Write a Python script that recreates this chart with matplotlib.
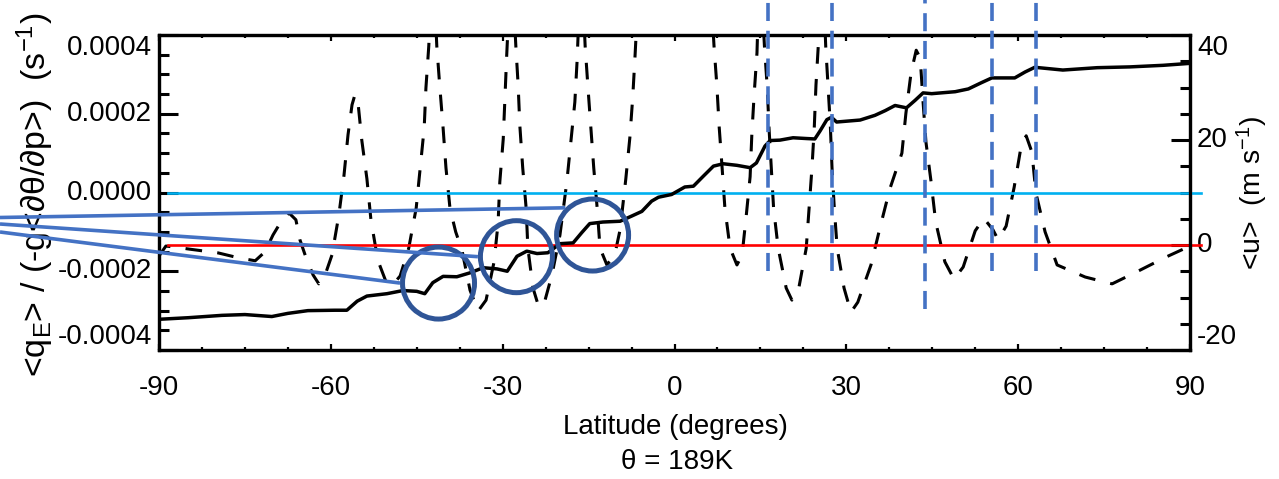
import math
import matplotlib
matplotlib.use("Agg")
import matplotlib.pyplot as plt
from matplotlib import font_manager
from matplotlib.patches import Circle
from matplotlib.ticker import MultipleLocator, FixedLocator, FormatStrFormatter

# ---- data ----
# solid curve, left axis (units of 1e-4 s^-1)
pv_lat = [-90.0, -84.9, -79.0, -75.0, -70.3, -67.5, -64.0, -59.3, -57.2, -55.4,
          -53.7, -50.2, -47.4, -45.0, -43.6, -42.2, -40.4, -38.0, -35.7, -33.4,
          -31.0, -29.2, -27.5, -25.8, -24.0, -22.1, -20.0, -17.7, -16.2, -14.8,
          -12.5, -9.5, -7.5, -5.7, -4.0, -2.8, -0.5, 1.8, 3.3, 5.0,
          6.8, 8.5, 10.9, 13.2, 14.3, 15.8, 16.7, 18.4, 20.7, 23.1,
          24.5, 25.4, 26.6, 27.4, 28.3, 32.4, 35.0, 36.8, 38.5, 40.5,
          42.0, 43.4, 44.9, 49.0, 51.3, 53.6, 55.4, 59.4, 61.2, 62.9,
          67.8, 73.8, 79.5, 85.3, 90.0]
pv_val = [-3.22, -3.18, -3.12, -3.10, -3.15, -3.07, -3.00, -2.99, -2.99, -2.76,
          -2.63, -2.57, -2.49, -2.51, -2.57, -2.29, -2.13, -2.14, -2.04, -1.91,
          -1.94, -2.00, -1.62, -1.49, -1.55, -1.53, -1.30, -1.28, -1.02, -0.79,
          -0.75, -0.73, -0.60, -0.48, -0.22, -0.12, -0.05, 0.14, 0.16, 0.41,
          0.67, 0.73, 0.69, 0.63, 0.75, 1.18, 1.32, 1.33, 1.39, 1.37,
          1.36, 1.56, 1.85, 1.91, 1.79, 1.84, 1.96, 2.08, 2.21, 2.15,
          2.34, 2.53, 2.51, 2.56, 2.63, 2.79, 2.91, 2.91, 3.06, 3.18,
          3.11, 3.17, 3.19, 3.23, 3.28]
pv_scale = 1e-4

# dashed curve, right axis (m s^-1); peaks above 40 are cut by the frame
u_lat = [-90.0, -88.8, -87.2, -84.6, -79.7, -75.9, -73.2, -71.5, -70.1, -68.5,
         -67.3, -66.1, -65.4, -64.3, -63.1, -62.1, -61.0, -59.8, -58.6, -57.7,
         -57.0, -56.3, -55.8, -55.3, -54.6, -53.7, -53.0, -51.8, -50.4, -49.2,
         -47.9, -46.4, -45.1, -44.4, -43.7, -43.4, -42.9, -42.2, -41.5, -41.0,
         -40.4, -39.9, -39.2, -38.2, -37.1, -35.7, -34.3, -32.9, -31.5, -30.8,
         -30.5, -29.9, -29.6, -29.3, -28.5, -27.7, -27.3, -27.0, -26.5, -25.9,
         -25.6, -24.7, -23.7, -22.6, -21.4, -20.0, -18.8, -18.1, -17.4, -17.0,
         -16.3, -15.6, -15.1, -14.6, -14.1, -13.5, -13.0, -11.8, -10.4, -9.5,
         -8.5, -7.8, -7.3, -6.9, -6.0, 0.0, 6.0, 6.9, 7.4, 7.8,
         8.3, 8.8, 9.7, 10.9, 11.8, 12.5, 13.2, 13.5, 13.9, 14.4,
         14.9, 15.7, 16.2, 16.5, 16.9, 17.3, 18.1, 19.5, 20.5, 21.7,
         23.0, 23.5, 24.0, 24.4, 24.7, 25.1, 25.8, 26.4, 26.8, 27.2,
         27.5, 27.9, 28.4, 29.6, 30.8, 32.0, 34.3, 35.9, 37.6, 39.7,
         40.4, 41.3, 42.2, 42.9, 43.4, 43.9, 44.8, 45.6, 47.2, 48.8,
         50.4, 52.5, 54.0, 55.6, 56.5, 57.9, 59.3, 60.5, 61.4, 62.4,
         63.1, 64.7, 66.8, 71.7, 76.4, 80.9, 85.8, 88.8, 90.0]
u_val = [-2.1, -0.2, -0.4, -0.8, -1.5, -2.5, -3.0, -1.3, 1.9, 4.8,
         6.1, 4.8, 1.0, -2.5, -5.7, -7.4, -5.7, -1.9, 5.7, 13.3,
         21.0, 26.7, 28.6, 27.6, 20.0, 12.6, 4.8, -2.9, -6.9, -7.6,
         -5.9, -0.6, 7.0, 14.7, 22.3, 29.9, 37.9, 55, 37.9, 30.5,
         22.3, 14.7, 7.0, 2.5, -1.0, -8.6, -12.6, -10.5, -3.2, 4.2,
         12.0, 20.2, 28.2, 36.0, 55, 37.9, 30.5, 22.7, 14.7, 7.0,
         -0.6, -8.2, -11.8, -10.5, -5.7, 1.9, 12.0, 19.6, 27.2, 35.2,
         55, 37.9, 29.9, 22.3, 14.7, 7.0, -0.6, -3.8, -1.7, 2.9,
         12.6, 20.4, 28.0, 35.8, 55, 70, 55, 37.9, 30.3, 22.5,
         14.9, 7.0, -0.6, -3.8, -1.9, 5.3, 13.0, 21.0, 28.6, 36.6,
         55, 37.9, 29.9, 22.3, 14.7, 7.0, -0.6, -8.2, -10.5, -8.2,
         -0.6, 7.0, 14.7, 22.3, 30.5, 37.9, 55, 37.9, 30.5, 22.9,
         14.7, 7.0, -0.6, -8.2, -12.8, -10.9, -3.8, 3.4, 10.7, 17.5,
         25.1, 32.8, 37.1, 35.6, 27.2, 19.6, 12.0, 4.4, -3.2, -6.5,
         -4.2, 2.7, 5.1, 2.9, 1.0, 3.6, 11.0, 18.7, 20.8, 17.7,
         9.9, 2.5, -3.8, -6.1, -7.4, -5.0, -2.3, -0.8, -2.5]

left_ticks = [-4e-4, -2e-4, 0.0, 2e-4, 4e-4]
right_ticks = [-20, 0, 20, 40]
x_ticks = [-90, -60, -30, 0, 30, 60, 90]

# annotations
vline_lat = [16.4, 27.5, 43.8, 55.5, 63.1]
vline_bottom = [-2.0e-4, -2.0e-4, -2.95e-4, -2.0e-4, -2.0e-4]
vline_top = 4.9e-4
circle_lat = [-41.2, -27.6, -14.3]
circle_val = [-2.30e-4, -1.63e-4, -1.08e-4]
pointer_start_y = [232, 224, 217.5]   # pixel row where pointers leave the left edge
pointer_angle = [180, 180, 225]
zero_span = [-88.4, 91.9]

# ---- fonts ----
names = {f.name for f in font_manager.fontManager.ttflist}
fam = "Liberation Sans Narrow" if "Liberation Sans Narrow" in names else "Liberation Sans"
plt.rcParams["font.family"] = [fam, "DejaVu Sans"]
plt.rcParams["mathtext.fontset"] = "custom"
plt.rcParams["mathtext.rm"] = fam
plt.rcParams["mathtext.it"] = fam
plt.rcParams["axes.unicode_minus"] = False
plt.rcParams["lines.scale_dashes"] = False
fs = 20

W, H = 1279, 479
fig = plt.figure(figsize=(W / 100, H / 100), dpi=100)
ax = fig.add_axes([159 / W, 1 - 350 / H, (1190 - 159) / W, (350 - 35) / H])
ax2 = ax.twinx()
ax.set_zorder(2)
ax2.set_zorder(1)
ax.patch.set_visible(False)

# right axis: dashed curve and red zero line
ax2.plot(u_lat, u_val, color="black", lw=2.2, dashes=(12, 11))
ax2.plot(zero_span, [0, 0], color="#ff0000", lw=1.9, clip_on=False)
ax2.set_ylim(-20, 40)
ax2.yaxis.set_major_locator(FixedLocator(right_ticks))
ax2.yaxis.set_minor_locator(MultipleLocator(5))

# left axis: solid curve and cyan zero line
ax.plot(zero_span, [0, 0], color="#00b0f0", lw=1.9, clip_on=False)
ax.plot(pv_lat, [v * pv_scale for v in pv_val], color="black", lw=2.5)
ax.set_xlim(-90, 90)
ax.set_ylim(-4e-4, 4e-4)
ax.xaxis.set_major_locator(FixedLocator(x_ticks))
ax.xaxis.set_minor_locator(MultipleLocator(7.5))
ax.yaxis.set_major_locator(FixedLocator(left_ticks))
ax.yaxis.set_minor_locator(MultipleLocator(0.5e-4))
ax.yaxis.set_major_formatter(FormatStrFormatter("%.4f"))

for a in (ax, ax2):
    for s in a.spines.values():
        s.set_linewidth(2.3)
    a.tick_params(axis="y", which="major", direction="in", length=14, width=2.2,
                  labelsize=fs, pad=5)
    a.tick_params(axis="y", which="minor", direction="in", length=7, width=2.2)
ax.tick_params(axis="x", which="major", direction="in", length=4.5, width=1.6,
               top=True, labelsize=fs, pad=18)
ax.tick_params(axis="x", which="minor", direction="in", length=2.5, width=1.6, top=True)

# end labels of the y axes sit inside the frame
for a in (ax, ax2):
    ticks = a.yaxis.get_major_ticks()
    for t in ticks:
        t.label1.set_va("center")
        t.label2.set_va("center")
    ticks[0].label1.set_va("bottom")
    ticks[0].label2.set_va("bottom")
    ticks[-1].label1.set_va("top")
    ticks[-1].label2.set_va("top")

# blue dashed markers
for lat, bot in zip(vline_lat, vline_bottom):
    ax.plot([lat, lat], [bot, vline_top], color="#4472c4", lw=2.6,
            dashes=(13, 7), clip_on=False, zorder=5)

# circles and pointers in pixel space
fig.canvas.draw()
over = fig.add_axes([0, 0, 1, 1], zorder=10)
over.set_xlim(0, W)
over.set_ylim(H, 0)
over.axis("off")
R = 36
for lat, val, y0, ang in zip(circle_lat, circle_val, pointer_start_y, pointer_angle):
    dx, dy = ax.transData.transform((lat, val))
    cx, cy = dx, H - dy
    over.add_patch(Circle((cx, cy), R, fill=False, ec="#2f5597", lw=3.6))
    a = math.radians(ang)
    ex = cx + (R + 2.5) * math.cos(a)
    ey = cy + (R + 2.5) * math.sin(a)
    over.plot([0, ex], [y0, ey], color="#4472c4", lw=2.6, solid_capstyle="butt")

# labels
fig.text(35 / W, 1 - 195 / H, "<q$_{\\rm E}$> / (-g<∂θ/∂p>)  (s$^{-1}$)",
         rotation=90, ha="center", va="center", fontsize=24.5)
fig.text(1252 / W, 1 - 193 / H, "<u>  (m s$^{-1}$)", rotation=90,
         ha="center", va="center", fontsize=20.5)
fig.text(675 / W, 1 - 427 / H, "Latitude (degrees)", ha="center", va="center", fontsize=fs)
fig.text(677 / W, 1 - 462 / H, "θ = 189K", ha="center", va="center", fontsize=fs)

fig.savefig("out.png", dpi=100, facecolor="white")
